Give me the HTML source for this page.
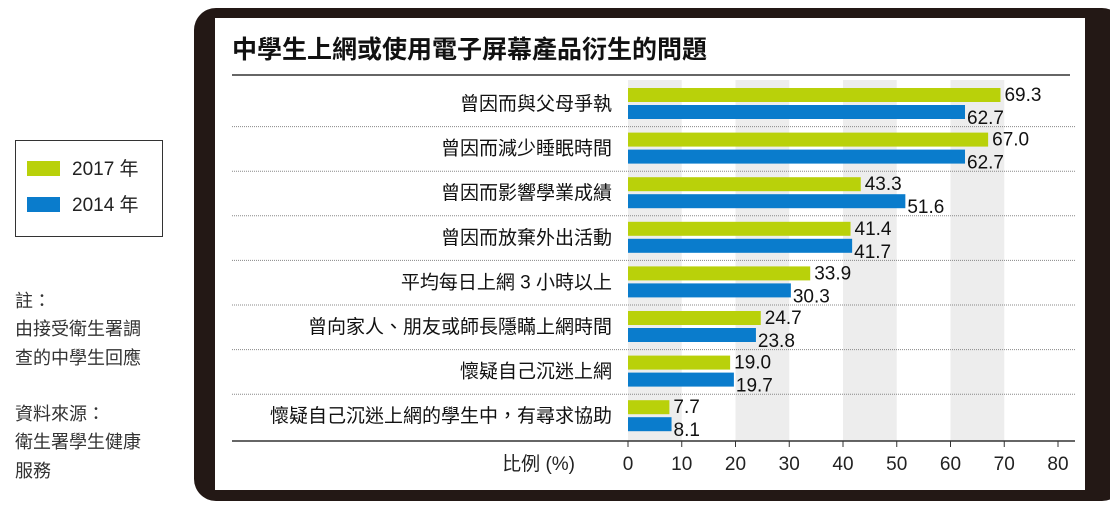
<!DOCTYPE html>
<html><head><meta charset="utf-8"><style>
body{margin:0;width:1110px;height:505px;background:#fff;overflow:hidden;font-family:"Liberation Sans","Noto Sans CJK TC",sans-serif}
</style></head><body>
<svg width="1110" height="505" xmlns="http://www.w3.org/2000/svg" font-family="Liberation Sans, Noto Sans CJK TC, sans-serif">
<rect x="194" y="8" width="930" height="493" rx="22" fill="#231815"/>
<rect x="215" y="18" width="870" height="472" fill="#fff"/>
<text x="232" y="58" font-size="25" font-weight="bold" fill="#111">中學生上網或使用電子屏幕產品衍生的問題</text>
<line x1="232" y1="75" x2="1070" y2="75" stroke="#666" stroke-width="2"/>
<g id="stripes"></g><g id="seps"></g><g id="bars"></g><g id="axis"></g>
<g>
<rect x="15.5" y="140.5" width="147" height="96" fill="#fff" stroke="#333"/>
<rect x="27" y="161" width="33" height="15" fill="#b9d10a"/>
<text x="72" y="175" font-size="19" fill="#222">2017 年</text>
<rect x="27" y="197" width="33" height="15" fill="#0a7ccc"/>
<text x="72" y="211" font-size="19" fill="#222">2014 年</text>
</g>
<g font-size="18" fill="#333">
<text x="15" y="307">註：</text>
<text x="15" y="335">由接受衛生署調</text>
<text x="15" y="364">查的中學生回應</text>
<text x="15" y="420">資料來源：</text>
<text x="15" y="448">衛生署學生健康</text>
<text x="15" y="477">服務</text>
</g>
</svg>
<script>
const categories=["曾因而與父母爭執","曾因而減少睡眠時間","曾因而影響學業成績","曾因而放棄外出活動","平均每日上網 3 小時以上","曾向家人、朋友或師長隱瞞上網時間","懷疑自己沉迷上網","懷疑自己沉迷上網的學生中，有尋求協助"];
const values2017=[69.3,67.0,43.3,41.4,33.9,24.7,19.0,7.7];
const values2014=[62.7,62.7,51.6,41.7,30.3,23.8,19.7,8.1];
const ticks=[0,10,20,30,40,50,60,70,80];
const NS="http://www.w3.org/2000/svg";
const x0=628,x1=1058,xmax=80;
function xs(v){return x0+(x1-x0)*v/xmax;}
const rowTop=88,pitch=44.6,axisY=441;
function ry(i){return rowTop+pitch*i;}
function mk(tag,attrs,parent){const e=document.createElementNS(NS,tag);for(const k in attrs)e.setAttribute(k,attrs[k]);parent.appendChild(e);return e;}
const st=document.getElementById('stripes'),sp=document.getElementById('seps'),bg=document.getElementById('bars'),ax=document.getElementById('axis');
for(let t=0;t<ticks.length-1;t+=2){
 const r=mk('rect',{x:xs(ticks[t]),y:80,width:xs(ticks[t+1])-xs(ticks[t]),height:axisY-80,fill:'#ededed'},st);
 
 
}
for(let i=1;i<categories.length;i++){
 const l=mk('line',{x1:232,x2:1075,y1:ry(i)-6,y2:ry(i)-6,stroke:'#888','stroke-dasharray':'1 1','stroke-width':1},sp);
 
 
}
categories.forEach((c,i)=>{
 const y=ry(i);
 const lab=mk('text',{x:612,y:y+22,'text-anchor':'end','font-size':19,fill:'#111'},bg);lab.textContent=c;
 
 
 const g=mk('rect',{x:x0,y:y,width:xs(values2017[i])-x0,height:14,fill:'#b9d10a'},bg);
 
 
 const b=mk('rect',{x:x0,y:y+17,width:xs(values2014[i])-x0,height:14,fill:'#0a7ccc'},bg);
 
 
 const gv=mk('text',{x:xs(values2017[i])+4,y:y+13,'font-size':19,fill:'#111'},bg);gv.textContent=values2017[i].toFixed(1);
 
 
 const bv=mk('text',{x:xs(values2014[i])+2,y:y+36,'font-size':19,fill:'#111'},bg);bv.textContent=values2014[i].toFixed(1);
 
 
});
const al=mk('line',{x1:232,x2:1075,y1:axisY,y2:axisY,stroke:'#333','stroke-width':1.5},ax);


ticks.forEach(t=>{
 const tk=mk('line',{x1:xs(t),x2:xs(t),y1:axisY,y2:axisY+6,stroke:'#333'},ax);
 
 
 const tl=mk('text',{x:xs(t),y:470,'text-anchor':'middle','font-size':19,fill:'#222'},ax);tl.textContent=t;
 
 
});
const at=mk('text',{x:575,y:470,'text-anchor':'end','font-size':19,fill:'#222'},ax);at.textContent='比例 (%)';


</script>
</body></html>
